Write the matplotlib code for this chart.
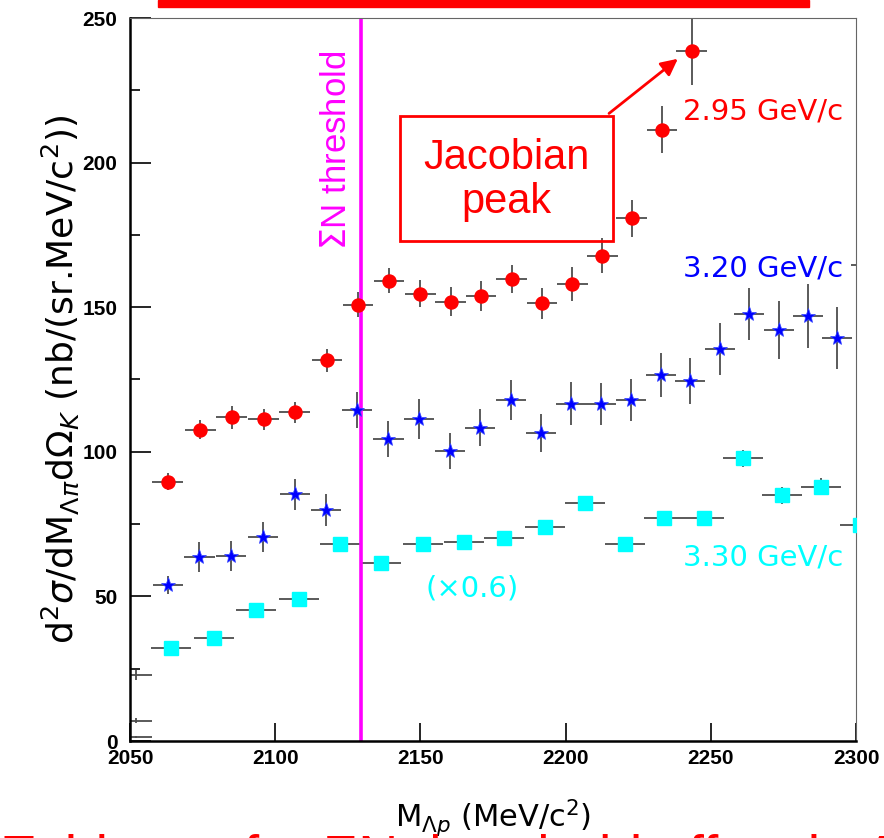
import numpy as np
import matplotlib
matplotlib.use('Agg')
import matplotlib.pyplot as plt
from matplotlib.patches import Rectangle

# 2.95 GeV/c (red circles)
red_x = [2063.0, 2074.2, 2085.0, 2096.0, 2106.7, 2117.8, 2128.5, 2139.2, 2149.9,
         2160.4, 2170.9, 2181.4, 2191.9, 2202.3, 2212.6, 2222.8, 2233.2, 2243.4]
red_y = [89.6, 107.7, 111.9, 111.2, 113.6, 131.7, 150.9, 159.1, 154.7,
         151.9, 153.8, 159.7, 151.3, 157.9, 167.8, 180.7, 211.4, 238.6]
red_err = [2.9, 3.3, 4.1, 3.6, 3.7, 4.0, 4.2, 4.3, 4.6,
           5.0, 5.2, 4.9, 5.4, 5.9, 6.0, 6.3, 8.2, 11.8]

# 3.20 GeV/c (blue stars)
blue_x = [2063.0, 2073.9, 2084.8, 2095.9, 2106.7, 2117.6, 2128.2, 2139.0, 2149.5,
          2160.1, 2170.5, 2181.1, 2191.5, 2201.8, 2212.3, 2222.6, 2232.9, 2242.9,
          2253.1, 2263.2, 2273.4, 2283.4, 2293.4, 2303.6]
blue_y = [53.9, 63.7, 63.9, 70.4, 85.3, 79.8, 114.4, 104.4, 111.3,
          100.2, 108.4, 118.0, 106.6, 116.6, 116.6, 117.9, 126.5, 124.5,
          135.7, 147.6, 142.1, 146.9, 139.5, 164.5]
blue_err = [3.0, 5.1, 5.2, 5.2, 5.3, 5.6, 6.3, 6.3, 7.0,
            6.3, 6.5, 6.9, 6.5, 7.4, 7.3, 7.1, 7.6, 8.1,
            9.0, 9.1, 9.9, 11.0, 10.7, 11.0]

# 3.30 GeV/c x0.6 (cyan squares)
cyan_x = [2064.2, 2078.9, 2093.5, 2108.1, 2122.3, 2136.4, 2150.8, 2164.9, 2178.8,
          2192.8, 2206.6, 2220.5, 2234.0, 2247.6, 2261.1, 2274.4, 2287.8, 2301.4]
cyan_y = [32.3, 35.5, 45.3, 49.2, 68.0, 61.4, 68.2, 68.9, 70.3,
          74.1, 82.4, 68.1, 77.2, 77.0, 97.7, 84.9, 87.9, 74.7]
cyan_err = [1.5, 1.5, 1.8, 1.8, 2.0, 2.0, 2.0, 2.0, 2.0,
            2.2, 2.2, 2.2, 2.4, 2.4, 3.0, 2.9, 3.0, 3.0]

# leftover bins at the low edge (no marker)
edge_x = [2052.0, 2052.0, 2052.0]
edge_y = [22.8, 7.0, 1.5]
edge_err = [1.8, 0.9, 0.4]

threshold = 2129.7
ecol = '0.3'

fig = plt.figure(figsize=(8.84, 8.38), dpi=100)
ax = fig.add_axes([130/884, 97/838, 726/884, 723/838])

ax.errorbar(edge_x, edge_y, xerr=5.5, yerr=edge_err, fmt='none', ecolor=ecol, elinewidth=1.3)
ax.errorbar(red_x, red_y, xerr=5.3, yerr=red_err, fmt='none', ecolor=ecol, elinewidth=1.3)
ax.errorbar(blue_x, blue_y, xerr=5.2, yerr=blue_err, fmt='none', ecolor=ecol, elinewidth=1.3)
ax.errorbar(cyan_x, cyan_y, xerr=6.9, yerr=cyan_err, fmt='none', ecolor=ecol, elinewidth=1.3)
ax.plot(red_x, red_y, 'o', color='#ff0000', ms=9.4, mec='#ff0000', ls='none', zorder=3)
ax.plot(blue_x, blue_y, '*', color='#0000ff', ms=11, mec='#3344ff', mew=0.5, ls='none', zorder=3)
ax.plot(cyan_x, cyan_y, 's', color='#00ffff', ms=9.6, mec='#00ffff', ls='none', zorder=3)

ax.axvline(threshold, color='#ff00ff', lw=2.6, zorder=2)
ax.text(2121.0, 204.3, r'$\Sigma$N threshold', rotation=90, color='#ff00ff',
        fontsize=25, family='Liberation Sans', ha='center', va='center')

ax.set_xlim(2050, 2300)
ax.set_ylim(0, 250)
ax.set_xticks([2050, 2100, 2150, 2200, 2250, 2300])
ax.set_yticks([0, 50, 100, 150, 200, 250])
ax.set_yticks([25, 75, 125, 175, 225], minor=True)
ax.tick_params(axis='x', direction='in', length=13, width=1.2, pad=6, top=False,
               labelsize=15)
ax.tick_params(axis='y', which='major', direction='in', length=15, width=1.2, pad=9,
               right=False, labelsize=15)
ax.tick_params(axis='y', which='minor', direction='in', length=7, width=1.2, right=False)
for lab in ax.get_xticklabels() + ax.get_yticklabels():
    lab.set_family('Liberation Sans')
    lab.set_fontweight('bold')
ax.spines['left'].set_linewidth(1.8)
ax.spines['bottom'].set_linewidth(1.8)
ax.spines['top'].set_linewidth(0.8)
ax.spines['right'].set_linewidth(0.8)
ax.spines['top'].set_color('0.4')
ax.spines['right'].set_color('0.4')

ax.set_ylabel(r'd$^{2}\sigma$/dM$_{\Lambda\pi}$d$\Omega_{K}$ (nb/(sr.MeV/c$^{2}$))',
              fontsize=26, va='center')
ax.yaxis.set_label_coords(-0.096, 0.5)
ax.set_xlabel(r'M$_{\Lambda p}$ (MeV/c$^{2}$)', fontsize=22, va='center')
ax.xaxis.set_label_coords(0.5, -0.107)

# annotations
ax.add_patch(Rectangle((2143.0, 172.8), 73.2, 43.2, fill=False, ec='#ff0000', lw=2, zorder=4))
ax.text(2179.6, 194.0, 'Jacobian\npeak', color='#ff0000', fontsize=30,
        family='Liberation Sans', ha='center', va='center', linespacing=1.15)
ax.annotate('', xy=(2239.4, 236.5), xytext=(2214.2, 216.4),
            arrowprops=dict(arrowstyle='-|>', color='#ff0000', lw=2, mutation_scale=25))
ax.text(2268.0, 217.8, '2.95 GeV/c', color='#ff0000', fontsize=21, ha='center', va='center')
ax.text(2268.0, 163.5, '3.20 GeV/c', color='#0000ff', fontsize=21, ha='center', va='center')
ax.text(2268.0, 63.3, '3.30 GeV/c', color='#00ffff', fontsize=21, ha='center', va='center')
ax.text(2167.9, 52.9, '(\u00d70.6)', color='#00ffff', fontsize=21, ha='center', va='center')

# slide fragments cut by the crop
fig.patches.append(Rectangle((158/884, 1 - 7/838), 651/884, 7/838, color='#ff0000',
                             transform=fig.transFigure, figure=fig))
fig.text(0.0, 0.005, 'Evidence for ΣN threshold effect in Λp', color='#ff0000',
         fontsize=40, family='Liberation Sans', ha='left', va='top')

fig.savefig('out.png', dpi=100)
